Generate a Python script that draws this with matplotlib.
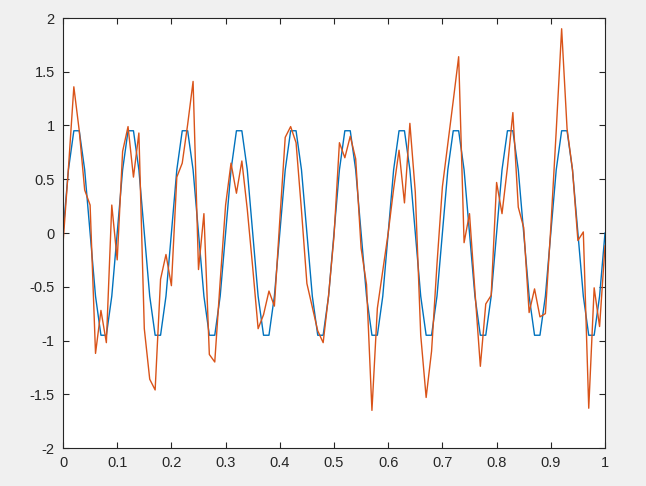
import matplotlib
matplotlib.use("Agg")
import matplotlib.pyplot as plt

t = [i / 100 for i in range(101)]

clean = [
    0.0, 0.5878, 0.9511, 0.9511, 0.5878, 0.0, -0.5878, -0.9511, -0.9511, -0.5878,
    0.0, 0.5878, 0.9511, 0.9511, 0.5878, 0.0, -0.5878, -0.9511, -0.9511, -0.5878,
    0.0, 0.5878, 0.9511, 0.9511, 0.5878, 0.0, -0.5878, -0.9511, -0.9511, -0.5878,
    0.0, 0.5878, 0.9511, 0.9511, 0.5878, 0.0, -0.5878, -0.9511, -0.9511, -0.5878,
    0.0, 0.5878, 0.9511, 0.9511, 0.5878, 0.0, -0.5878, -0.9511, -0.9511, -0.5878,
    0.0, 0.5878, 0.9511, 0.9511, 0.5878, 0.0, -0.5878, -0.9511, -0.9511, -0.5878,
    0.0, 0.5878, 0.9511, 0.9511, 0.5878, 0.0, -0.5878, -0.9511, -0.9511, -0.5878,
    0.0, 0.5878, 0.9511, 0.9511, 0.5878, 0.0, -0.5878, -0.9511, -0.9511, -0.5878,
    0.0, 0.5878, 0.9511, 0.9511, 0.5878, 0.0, -0.5878, -0.9511, -0.9511, -0.5878,
    0.0, 0.5878, 0.9511, 0.9511, 0.5878, 0.0, -0.5878, -0.9511, -0.9511, -0.5878,
    0.0,
]

noisy = [
    -0.10, 0.60, 1.36, 0.95, 0.40, 0.26, -1.12, -0.72, -1.02, 0.26,
    -0.25, 0.76, 0.99, 0.52, 0.93, -0.89, -1.36, -1.46, -0.43, -0.20,
    -0.49, 0.52, 0.65, 1.01, 1.41, -0.34, 0.18, -1.13, -1.20, -0.45,
    0.26, 0.65, 0.37, 0.67, 0.22, -0.32, -0.89, -0.76, -0.54, -0.68,
    0.12, 0.89, 0.99, 0.84, 0.21, -0.47, -0.69, -0.91, -1.02, -0.58,
    -0.03, 0.84, 0.70, 0.90, 0.69, -0.14, -0.48, -1.65, -0.70, -0.35,
    0.00, 0.41, 0.77, 0.28, 1.02, 0.38, -0.95, -1.53, -1.10, -0.29,
    0.43, 0.83, 1.23, 1.64, -0.09, 0.18, -0.54, -1.24, -0.66, -0.58,
    0.47, 0.18, 0.61, 1.12, 0.24, 0.05, -0.74, -0.52, -0.78, -0.75,
    0.05, 0.95, 1.90, 0.97, 0.59, -0.07, 0.01, -1.63, -0.51, -0.87,
    -0.12,
]

xticks = [0, 0.1, 0.2, 0.3, 0.4, 0.5, 0.6, 0.7, 0.8, 0.9, 1]
xticklabels = ["0", "0.1", "0.2", "0.3", "0.4", "0.5", "0.6", "0.7", "0.8", "0.9", "1"]
yticks = [-2, -1.5, -1, -0.5, 0, 0.5, 1, 1.5, 2]
yticklabels = ["-2", "-1.5", "-1", "-0.5", "0", "0.5", "1", "1.5", "2"]

plt.rcParams['font.family'] = ['Liberation Sans', 'DejaVu Sans']
plt.rcParams['axes.unicode_minus'] = False

fig = plt.figure(figsize=(6.46, 4.86), dpi=100, facecolor='#f0f0f0')
ax = fig.add_axes([63/646, 1 - 448/486, (605-63)/646, (448-18)/486])
ax.set_facecolor('white')

ax.plot(t, clean, color='#0072BD', linewidth=1.0)
ax.plot(t, noisy, color='#D95319', linewidth=1.0)

ax.set_xlim(0, 1)
ax.set_ylim(-2, 2)
ax.set_xticks(xticks)
ax.set_xticklabels(xticklabels)
ax.set_yticks(yticks)
ax.set_yticklabels(yticklabels)

for s in ax.spines.values():
    s.set_color('#262626')
    s.set_linewidth(0.8)
ax.tick_params(direction='in', length=4, width=0.8, color='#262626',
               labelcolor='#262626', labelsize=10.5,
               top=True, right=True)
ax.tick_params(axis='x', pad=6)
ax.tick_params(axis='y', pad=6)

fig.savefig('out.png', dpi=100, facecolor=fig.get_facecolor())
